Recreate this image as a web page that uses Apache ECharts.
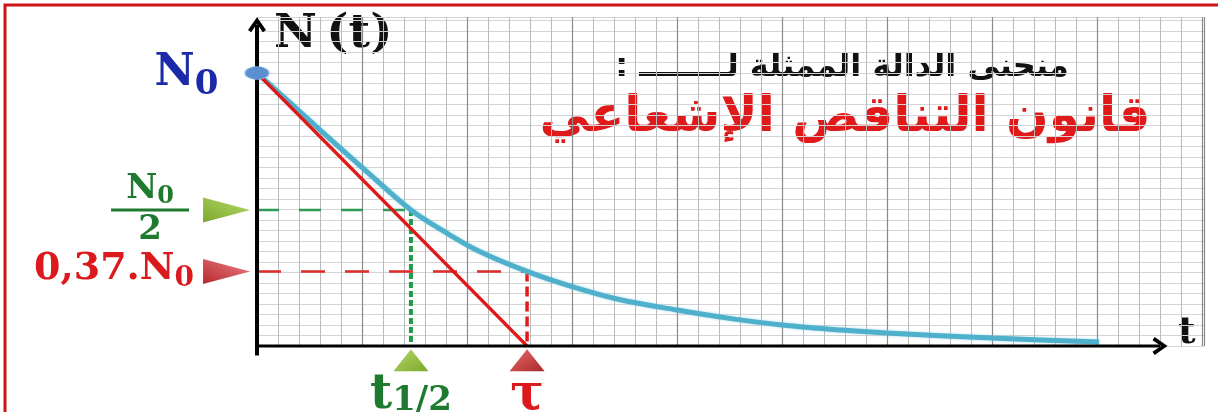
<!DOCTYPE html>
<html>
<head>
<meta charset="utf-8">
<script src="https://cdn.jsdelivr.net/npm/echarts@6/dist/echarts.min.js"></script>
<style>
  html, body { margin: 0; padding: 0; background: #fff; }
  #main { width: 1218px; height: 412px; }
</style>
</head>
<body>
<div id="main"></div>
<script>
// units: one small grid square on each axis
var tValues = [0, 1.5, 3.1, 5.4, 7.33, 9, 10.6, 12.86, 15, 17.3, 20, 22.5, 25, 27.8, 30, 35, 40.1];
var nValues = [26, 23.3, 20.4, 16.3, 12.95, 10.8, 9.0, 7.1, 5.65, 4.4, 3.43, 2.63, 2.0, 1.52, 1.24, 0.76, 0.38];

var n0 = 26;          // N0
var nHalf = 12.95;    // N0 / 2
var n37 = 7.1;        // 0,37.N0 (as drawn)
var tHalf = 7.33;     // t 1/2
var tau = 12.86;      // tau

var xMax = 45.1, yMax = 31.3;

var serif = '"DejaVu Serif", "Liberation Serif", serif';
var green = '#1e7a2e';
var red = '#dc1a1e';
var chevron = 'path://M0,12 L10,0 L20,12 L16.5,14 L10,6 L3.5,14 Z';

var myChart = echarts.init(document.getElementById('main'));

var curve = tValues.map(function (t, i) { return [t, nValues[i]]; });

function tok(size, color, extra) {
    var o = { fontFamily: serif, fontWeight: 'bold', fontSize: size, color: color };
    for (var k in extra) o[k] = extra[k];
    return o;
}

function grad(c1, c2) {
    return new echarts.graphic.LinearGradient(0, 0, 1, 1, [
        { offset: 0, color: c1 }, { offset: 1, color: c2 }
    ]);
}

var option = {
    animation: false,
    grid: { left: 257, right: 1218 - 257 - xMax * 21, top: 346 - yMax * 10.5, bottom: 66 },
    xAxis: {
        type: 'value', min: 0, max: xMax, interval: 5,
        axisLine: { show: false }, axisTick: { show: false }, axisLabel: { show: false },
        splitLine: { lineStyle: { color: '#8a8a8a', width: 1.2 } },
        minorTick: { show: false, splitNumber: 5 },
        minorSplitLine: { show: true, lineStyle: { color: '#b9b9b9', width: 1 } }
    },
    yAxis: {
        type: 'value', min: 0, max: yMax, interval: 1,
        axisLine: { show: false }, axisTick: { show: false }, axisLabel: { show: false },
        splitLine: { lineStyle: { color: '#d4d4d4', width: 1 } }
    },
    graphic: [
        { type: 'rect', shape: { x: 5, y: 5, width: 1300, height: 500 },
          style: { fill: 'none', stroke: '#d01414', lineWidth: 3 }, z: 100 },
        { type: 'text', left: 274, top: 11, style: { text: 'N\u2009(t)', font: 'bold 47px ' + serif, fill: '#111' } },
        { type: 'text', left: 1178, top: 314, style: { text: 't', font: 'bold 38px ' + serif, fill: '#111' } },
        { type: 'text', x: 842, y: 52, style: { text: '\u200Fمنحنى الدالة الممثلة لــــــــ :\u200F', font: 'bold 32px "DejaVu Sans"', fill: '#111', textAlign: 'center' } },
        { type: 'text', x: 845, y: 93, style: { text: 'قانون التناقص الإشعاعي', font: 'bold 50px "DejaVu Sans"', fill: '#e01a1a', textAlign: 'center' } }
    ],
    series: [
        {
            name: 'N(t)', type: 'line', data: curve, smooth: 0.35, symbol: 'none',
            lineStyle: { color: '#4fb0cc', width: 5, shadowColor: 'rgba(120,200,225,0.6)', shadowBlur: 3 },
            z: 3
        },
        {
            name: 'tangent', type: 'line', data: [[0, n0], [tau, 0]], symbol: 'none',
            lineStyle: { color: '#e01818', width: 3.2 }, z: 4
        },
        {
            name: 'half-h', type: 'line', data: [[0, nHalf], [tHalf, nHalf]], symbol: 'none',
            lineStyle: { color: '#2e9a55', width: 2.5, type: [22, 20] }, z: 2
        },
        {
            name: 'half-v', type: 'line', data: [[tHalf, nHalf], [tHalf, 0]], symbol: 'none',
            lineStyle: { color: '#1f9a4a', width: 4, type: [6, 3] }, z: 2
        },
        {
            name: 'tau-h', type: 'line', data: [[0, n37], [tau, n37]], symbol: 'none',
            lineStyle: { color: '#dd2a2a', width: 2.5, type: [24, 20] }, z: 2
        },
        {
            name: 'tau-v', type: 'line', data: [[tau, n37], [tau, 0]], symbol: 'none',
            lineStyle: { color: '#e01c1c', width: 3.5, type: [10, 5] }, z: 2
        },
        {
            name: 'axis-t', type: 'line', clip: false, showSymbol: true, symbolSize: [18, 15],
            lineStyle: { color: '#000', width: 3 }, itemStyle: { color: '#000' },
            data: [{ value: [-0.8, 0], symbol: 'none' }, { value: [43.0, 0], symbol: chevron, symbolRotate: -90 }],
            z: 5
        },
        {
            name: 'axis-n', type: 'line', clip: false, showSymbol: true, symbolSize: [18, 15],
            lineStyle: { color: '#000', width: 4 }, itemStyle: { color: '#000' },
            data: [{ value: [0, -0.9], symbol: 'none' }, { value: [0, 30.6], symbol: chevron }],
            z: 5
        },
        {
            name: 'start', type: 'scatter', clip: false, symbol: 'circle', symbolSize: [24, 13],
            itemStyle: { color: '#5b8fcf', borderColor: '#8ab8e6', borderWidth: 1, opacity: 1 },
            data: [[0, n0]],
            label: {
                show: true, position: 'left', distance: 26, offset: [0, 4],
                formatter: '{a|N}{b|0}',
                rich: {
                    a: tok(44, '#1a2aa8', { verticalAlign: 'top' }),
                    b: tok(34, '#1a2aa8', { verticalAlign: 'top', padding: [17, 0, 0, 0] })
                }
            },
            z: 6
        },
        {
            name: 'marks-left', type: 'scatter', clip: false, symbol: 'triangle', symbolRotate: -90,
            symbolSize: [25, 47],
            data: [
                { value: [-1.45, nHalf], itemStyle: { color: grad('#b6d968', '#7ba82c') },
                  label: { distance: 14, formatter: '{n|N}{s|0}\n{l|}\n{d|2}' } },
                { value: [-1.45, n37], itemStyle: { color: grad('#ee7f86', '#b42a2e') },
                  label: { distance: 9, formatter: '{r|0,37.N}{rs|0}' } }
            ],
            itemStyle: { opacity: 1 },
            label: {
                show: true, position: 'left',
                rich: {
                    n: tok(34, green, { verticalAlign: 'top', align: 'center' }),
                    s: tok(24, green, { verticalAlign: 'top', align: 'center', padding: [12, 0, 0, 0] }),
                    l: { width: 78, height: 3, backgroundColor: green, align: 'center' },
                    d: tok(34, green, { align: 'center', padding: [2, 0, 0, 0] }),
                    r: tok(38, red, { verticalAlign: 'top' }),
                    rs: tok(28, red, { verticalAlign: 'top', padding: [14, 0, 0, 0] })
                }
            },
            z: 6
        },
        {
            name: 'marks-bottom', type: 'scatter', clip: false, symbol: 'triangle',
            symbolSize: [35, 22],
            data: [
                { value: [tHalf, -1.35], itemStyle: { color: grad('#b6d968', '#7ba82c') },
                  label: { formatter: '{t|t}{s|1/2}' } },
                { value: [tau, -1.35], itemStyle: { color: grad('#e86a6a', '#a82a2a') },
                  label: { formatter: '{tau|τ}' } }
            ],
            itemStyle: { opacity: 1 },
            label: {
                show: true, position: 'bottom', distance: 0,
                rich: {
                    t: tok(48, green, { verticalAlign: 'top' }),
                    s: tok(34, green, { verticalAlign: 'top', padding: [13, 0, 0, 0] }),
                    tau: tok(50, red, { padding: [0, 0, 0, 0] })
                }
            },
            z: 6
        }
    ]
};
myChart.setOption(option);
</script>
</body>
</html>
